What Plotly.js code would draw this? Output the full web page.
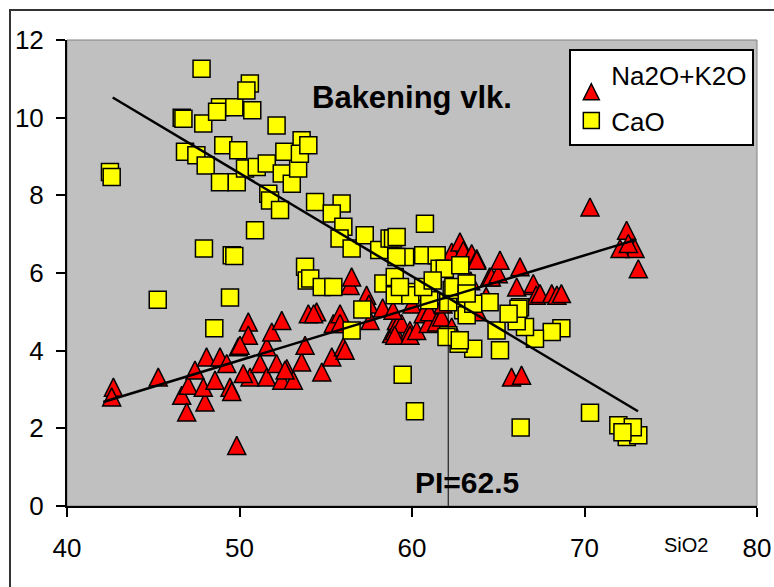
<!DOCTYPE html>
<html>
<head>
<meta charset="utf-8">
<script src="https://cdn.plot.ly/plotly-3.0.1.min.js"></script>
<style>
  html, body { margin: 0; padding: 0; background: #fff; overflow: hidden; }
  #wrap { position: relative; width: 774px; height: 587px; overflow: hidden; }
  #chart { position: absolute; left: 0; top: 0; width: 774px; height: 587px; }
  #frame { position: absolute; left: 9px; top: 9px; width: 800px; height: 600px;
           border-left: 2px solid #333; border-top: 2px solid #333; pointer-events: none; }
</style>
</head>
<body>
<div id="wrap"><div id="chart"></div><div id="frame"></div></div>
<script>
// Na2O+K2O series (SiO2, wt%)
const naX = [42.69,42.59,45.29,46.65,46.94,47.03,47.42,48.00,48.09,47.90,48.58,48.87,49.26,49.45,49.55,49.93,49.84,50.51,50.51,50.61,50.22,50.03,51.19,51.58,51.87,52.45,51.58,52.15,52.45,52.74,53.12,52.64,53.60,53.80,53.99,54.47,54.30,54.77,55.35,56.02,56.12,55.44,55.83,55.83,56.41,56.50,57.37,57.57,57.50,58.30,58.82,59.10,59.00,59.20,59.40,59.88,59.00,59.88,60.27,58.90,60.00,60.65,60.94,61.00,61.43,61.72,61.80,62.30,62.30,62.78,62.97,62.90,63.00,63.40,63.46,63.75,63.75,63.80,64.30,64.50,64.60,65.00,65.10,65.77,66.35,66.26,66.07,67.03,67.03,67.20,67.42,68.10,68.40,68.66,70.32,72.44,72.93,72.06,72.54,73.12];
const naY = [3.06,2.81,3.32,2.85,2.42,3.11,3.50,2.68,3.84,3.06,3.24,3.84,3.67,3.06,2.95,4.10,1.56,4.74,4.40,3.32,3.41,4.14,3.67,4.10,4.48,4.78,3.32,3.67,3.24,3.54,3.24,3.50,3.71,4.14,4.95,5.00,4.95,3.45,3.84,4.10,4.01,4.70,4.95,4.70,5.68,5.90,5.43,4.78,5.20,5.10,4.44,4.78,4.52,4.70,4.70,4.52,4.40,4.40,4.52,5.04,5.20,4.95,4.70,5.00,4.74,4.87,5.20,4.61,6.54,6.80,6.58,5.60,5.10,5.80,6.50,6.37,6.33,5.00,5.40,5.90,5.90,5.98,6.33,3.32,3.37,6.16,5.64,5.68,5.73,5.43,5.47,5.47,5.43,5.47,7.70,7.10,6.63,6.63,6.76,6.11];

// CaO series
const caX = [47.80,42.49,42.59,46.65,46.75,47.90,48.87,48.70,49.70,50.60,50.40,50.74,52.15,46.84,47.50,48.04,49.06,49.93,48.87,49.84,50.32,51.00,51.58,51.67,51.77,52.45,52.35,53.03,53.40,52.60,53.60,53.50,53.99,50.90,47.94,49.55,49.70,54.38,55.92,55.35,56.02,55.80,56.50,57.26,58.10,58.70,58.90,53.80,53.90,54.10,54.77,55.44,58.34,45.26,49.45,48.54,57.12,56.50,59.46,60.17,66.30,70.32,71.96,72.45,73.12,72.80,72.20,68.66,68.10,67.13,66.55,66.07,66.26,66.17,65.10,64.50,64.90,63.55,62.70,62.10,62.00,62.77,62.97,63.17,63.55,65.60,60.08,59.00,59.90,61.00,62.10,60.75,59.11,59.60,59.10,60.65,61.43,61.60,61.90,62.80,59.00,59.30,60.65,61.20,62.30,62.40,63.17,63.17];
const caY = [11.26,8.60,8.47,10.00,9.97,9.85,10.27,10.15,10.27,10.88,10.70,10.19,9.80,9.12,9.03,8.77,9.29,9.16,8.34,8.34,8.69,8.73,8.82,8.04,7.87,8.56,7.62,8.30,8.69,9.12,9.42,9.07,9.29,7.10,6.63,6.46,6.44,7.83,7.79,7.53,7.19,6.89,6.63,6.97,6.59,6.89,6.89,6.16,5.81,5.86,5.64,5.64,5.73,5.31,5.37,4.58,5.06,4.52,3.38,2.44,2.02,2.40,2.08,1.78,1.82,2.03,1.90,4.58,4.48,4.31,4.61,4.76,5.12,5.08,4.01,5.25,4.52,4.05,4.18,4.40,4.35,4.27,5.04,4.91,5.21,4.95,5.51,5.43,5.43,5.30,5.25,7.27,6.93,6.41,6.41,6.46,6.46,6.11,6.11,6.20,5.90,5.64,5.64,5.81,5.56,5.64,5.73,5.47];

// Linear trend lines (end points)
const naTrendX = [42.1, 73.0];
const naTrendY = [2.68, 6.86];
const caTrendX = [42.65, 73.1];
const caTrendY = [10.52, 2.44];
// PI marker line
const piX = [62.1, 62.1];
const piY = [0, 5.32];

const xTicks = [40, 50, 60, 70, 80];
const yTicks = [0, 2, 4, 6, 8, 10, 12];

const FONT = 'Liberation Sans, Arial, sans-serif';

const traces = [
  {
    x: naX, y: naY, type: 'scatter', mode: 'markers', name: 'Na2O+K2O',
    legendgroup: 'a',
    marker: { symbol: 'arrow-down', angle: 180, standoff: 9, size: 18, color: '#FF0000',
              line: { color: '#000', width: 1.5 } }
  },
  {
    x: caX, y: caY, type: 'scatter', mode: 'markers', name: 'CaO',
    legendgroup: 'b',
    marker: { symbol: 'square', size: 17, color: '#FFFF00',
              line: { color: '#000', width: 1.5 } }
  },
  { x: naTrendX, y: naTrendY, type: 'scatter', mode: 'lines', showlegend: false,
    line: { color: '#000', width: 2.5 } },
  { x: caTrendX, y: caTrendY, type: 'scatter', mode: 'lines', showlegend: false,
    line: { color: '#000', width: 2.5 } },
  { x: piX, y: piY, type: 'scatter', mode: 'lines', showlegend: false,
    line: { color: '#000', width: 1 } }
];

const layout = {
  width: 774, height: 587,
  margin: { l: 67, r: 17, t: 40, b: 81, pad: 0 },
  paper_bgcolor: '#fff',
  plot_bgcolor: '#C0C0C0',
  font: { family: FONT, size: 26, color: '#000' },
  showlegend: true,
  legend: {
    x: 0.728, y: 0.98, xanchor: 'left', yanchor: 'top',
    bgcolor: '#fff', bordercolor: '#000', borderwidth: 2,
    font: { family: FONT, size: 26, color: '#000' },
    tracegroupgap: 9, traceorder: 'grouped'
  },
  xaxis: {
    range: [40, 80], tickvals: xTicks, ticktext: xTicks.map(String),
    showgrid: false, zeroline: false,
    showline: true, linecolor: '#000', linewidth: 2,
    ticks: 'outside', ticklen: 9, tickwidth: 2, tickcolor: '#000',
    ticklabelstandoff: 9,
    tickfont: { family: FONT, size: 26, color: '#000' }
  },
  yaxis: {
    range: [0, 12], tickvals: yTicks, ticktext: yTicks.map(String),
    showgrid: false, zeroline: false,
    showline: true, linecolor: '#000', linewidth: 2,
    ticks: 'outside', ticklen: 9, tickwidth: 2, tickcolor: '#000',
    ticklabelstandoff: 7,
    tickfont: { family: FONT, size: 26, color: '#000' }
  },
  shapes: [
    { type: 'rect', xref: 'paper', yref: 'paper', x0: 0, x1: 1, y0: 0, y1: 1,
      line: { color: '#808080', width: 1 }, layer: 'below' }
  ],
  annotations: [
    { text: '<b>Bakening vlk.</b>', xref: 'paper', yref: 'paper',
      x: (412 - 67) / 690, y: (506 - 97) / 466, xanchor: 'center', yanchor: 'middle',
      showarrow: false, font: { family: FONT, size: 31, color: '#000' } },
    { text: '<b>PI=62.5</b>', xref: 'paper', yref: 'paper',
      x: (467 - 67) / 690, y: (506 - 482) / 466, xanchor: 'center', yanchor: 'middle',
      showarrow: false, font: { family: FONT, size: 30, color: '#000' } },
    { text: 'SiO2', xref: 'paper', yref: 'paper',
      x: (686 - 67) / 690, y: (506 - 545) / 466, xanchor: 'center', yanchor: 'middle',
      showarrow: false, font: { family: FONT, size: 20, color: '#000' } }
  ]
};

Plotly.newPlot('chart', traces, layout, { displayModeBar: false, staticPlot: true });
</script>
</body>
</html>
